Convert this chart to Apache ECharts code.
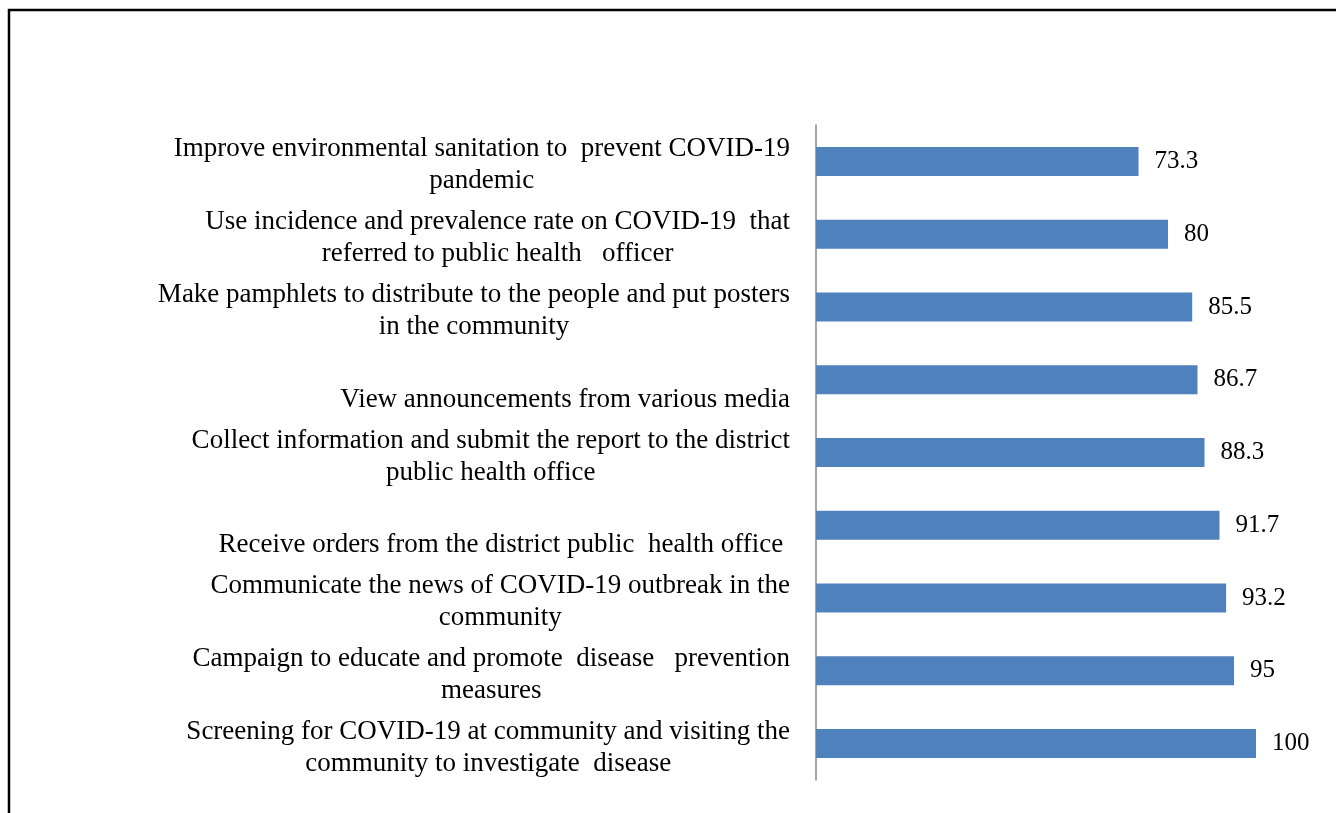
<!DOCTYPE html>
<html>
<head>
<meta charset="utf-8">
<script src="https://cdn.jsdelivr.net/npm/echarts@6/dist/echarts.min.js"></script>
<style>
html,body{margin:0;padding:0;background:#fff;}
#chart{width:1336px;height:813px;}
</style>
</head>
<body>
<div id="chart"></div>
<script>
// Categories, top to bottom
const categories = [
  "Improve environmental sanitation to  prevent COVID-19\npandemic",
  "Use incidence and prevalence rate on COVID-19  that\nreferred to public health   officer",
  "Make pamphlets to distribute to the people and put posters\nin the community",
  " \nView announcements from various media",
  "Collect information and submit the report to the district\npublic health office",
  " \nReceive orders from the district public  health office ",
  "Communicate the news of COVID-19 outbreak in the\ncommunity",
  "Campaign to educate and promote  disease   prevention\nmeasures",
  "Screening for COVID-19 at community and visiting the\ncommunity to investigate  disease"
];
const values = [73.3, 80, 85.5, 86.7, 88.3, 91.7, 93.2, 95, 100];

const chart = echarts.init(document.getElementById('chart'));
chart.setOption({
  animation: false,
  backgroundColor: '#ffffff',
  graphic: [{
    type: 'rect',
    shape: {x: 9, y: 10, width: 1400, height: 900},
    style: {fill: 'none', stroke: '#000', lineWidth: 2.5},
    silent: true
  }],
  grid: {left: 816, top: 125, height: 655, right: 36},
  xAxis: {
    type: 'value', min: 0, max: 110, show: false
  },
  yAxis: {
    type: 'category',
    inverse: true,
    data: categories,
    axisLine: {show: true, lineStyle: {color: '#888888', width: 1.5}},
    axisTick: {show: false},
    axisLabel: {
      margin: 26,
      align: 'right',
      padding: [8, 0, 0, 0],
      formatter: function (v) {
        return v.split('\n').map(l => '{c|' + l + '}').join('\n');
      },
      rich: {
        c: {
          align: 'center',
          fontFamily: '"Liberation Serif", serif',
          fontSize: 27,
          lineHeight: 32,
          color: '#000'
        }
      }
    }
  },
  series: [{
    type: 'bar',
    data: values,
    barWidth: 29,
    itemStyle: {color: '#4F81BD'},
    label: {
      show: true,
      position: 'right',
      distance: 16,
      fontFamily: '"Liberation Serif", serif',
      fontSize: 25,
      color: '#000'
    }
  }]
});
</script>
</body>
</html>
